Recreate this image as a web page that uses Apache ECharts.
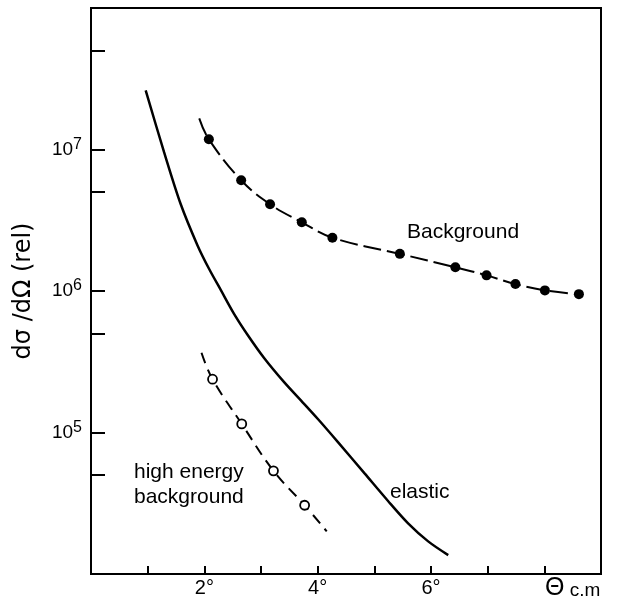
<!DOCTYPE html>
<html><head><meta charset="utf-8">
<script src="https://cdn.jsdelivr.net/npm/echarts@6/dist/echarts.min.js"></script>
<style>html,body{margin:0;padding:0;background:#fff}#c{width:634px;height:601px}</style>
</head><body><div id="c"></div>
<script>
// Elastic cross-section (solid curve)
const elasticX = [0.965, 1.288, 1.584, 1.88, 2.085, 2.292, 2.527, 2.765, 3.058, 3.412, 3.708, 4.004, 4.358, 4.828, 5.242, 5.596, 5.95, 6.304];
const elasticY = [2.62e7, 9.62e6, 4.10e6, 2.10e6, 1.43e6, 1.014e6, 6.87e5, 4.89e5, 3.35e5, 2.26e5, 1.68e5, 1.245e5, 8.55e4, 5.14e4, 3.28e4, 2.28e4, 1.70e4, 1.36e4];
// Background (filled dots) and its dashed curve
const bgX = [2.08, 2.65, 3.16, 3.72, 4.26, 5.45, 6.43, 6.98, 7.49, 8.01, 8.61];
const bgY = [1.18e7, 6.06e6, 4.1e6, 3.06e6, 2.38e6, 1.83e6, 1.47e6, 1.29e6, 1.12e6, 1.01e6, 9.5e5];
const bgCurveStartX = 1.91, bgCurveStartY = 1.66e7;
// High energy background (open circles) and its dashed curve
const heX = [2.145, 2.66, 3.22, 3.77];
const heY = [2.38e5, 1.15e5, 5.36e4, 3.06e4];
const heCurveStartX = 1.95, heCurveStartY = 3.66e5;
const heCurveEndX = 4.16, heCurveEndY = 2.0e4;
// Axis ticks
const xLabelled = [2, 4, 6];
const yMajorTicks = [1e5, 1e6, 1e7];
const yMinorTicks = [5e4, 5e5, 5e6, 5e7];

const zip = (xs, ys) => xs.map((x, i) => [x, ys[i]]);
const FONT = 'Liberation Sans';
const FONT2 = 'DejaVu Sans';

const chart = echarts.init(document.getElementById('c'));
chart.setOption({
  animation: false,
  backgroundColor: '#fff',
  textStyle: { fontFamily: FONT, color: '#000' },
  grid: { left: 91, top: 8, right: 33, bottom: 26, show: true, borderColor: '#000', borderWidth: 2, containLabel: false },
  xAxis: {
    type: 'value', min: 0, max: 9, interval: 1,
    axisLine: { lineStyle: { color: '#000', width: 2 } },
    axisTick: { inside: true, length: 8, lineStyle: { color: '#000', width: 2 } },
    splitLine: { show: false },
    axisLabel: {
      margin: 4, fontSize: 20, color: '#000', fontFamily: FONT,
      formatter: v => xLabelled.includes(v) ? v + '°' : ''
    },
    name: '{t|Θ}{c| c.m}', nameLocation: 'end', nameGap: -56,
    nameTextStyle: {
      verticalAlign: 'top', align: 'left', padding: [2, 0, 0, 0],
      rich: { t: { fontSize: 25, fontFamily: FONT, color: '#000' }, c: { fontSize: 19, fontFamily: FONT, color: '#000', padding: [4, 0, 0, 0] } }
    }
  },
  yAxis: [{
    type: 'log', logBase: 10, min: 1e4, max: 1e8, position: 'left',
    axisLine: { lineStyle: { color: '#000', width: 2 } },
    axisTick: { show: false },
    splitLine: { show: false },
    axisLabel: {
      margin: 9, color: '#000', fontFamily: FONT,
      formatter: v => {
        const e = Math.round(Math.log10(v));
        return yMajorTicks.includes(Math.pow(10, e)) ? '{b|10}{s|' + e + '}' : '';
      },
      rich: { b: { fontSize: 19, fontFamily: FONT, color: '#000' }, s: { fontSize: 16, fontFamily: FONT, color: '#000', verticalAlign: 'bottom', padding: [0, 0, 10, 0] } }
    },
    name: 'dσ /dΩ (rel)', nameLocation: 'middle', nameGap: 55,
    nameTextStyle: { fontSize: 24, fontFamily: FONT2, color: '#000' }
  }, {
    type: 'value', min: 4, max: 8, position: 'left',
    axisLine: { show: false },
    splitLine: { show: false },
    axisLabel: { show: false },
    axisTick: {
      show: true, inside: true, length: 14, lineStyle: { color: '#000', width: 2 },
      customValues: yMajorTicks.concat(yMinorTicks).map(v => Math.log10(v))
    }
  }],
  graphic: [
    { type: 'text', left: 407, top: 222, style: { text: 'Background', fontSize: 21, fontFamily: FONT, fill: '#000' } },
    { type: 'text', left: 390, top: 482, style: { text: 'elastic', fontSize: 21, fontFamily: FONT, fill: '#000' } },
    { type: 'text', left: 134, top: 460, style: { text: 'high energy\nbackground', fontSize: 21, lineHeight: 25, fontFamily: FONT, fill: '#000' } }
  ],
  series: [
    {
      type: 'line', name: 'elastic', data: zip(elasticX, elasticY), smooth: 0.3, showSymbol: false, symbol: 'none',
      lineStyle: { color: '#000', width: 2.5 }, z: 3
    },
    {
      type: 'line', name: 'bg-curve', data: [[bgCurveStartX, bgCurveStartY]].concat(zip(bgX, bgY)), smooth: 0.4, symbol: 'none',
      lineStyle: { color: '#000', width: 2, type: [18, 6] }, z: 3
    },
    {
      type: 'scatter', name: 'Background', data: zip(bgX, bgY), symbol: 'circle', symbolSize: 10,
      itemStyle: { color: '#000', opacity: 1 }, z: 5
    },
    {
      type: 'line', name: 'he-curve', data: [[heCurveStartX, heCurveStartY]].concat(zip(heX, heY), [[heCurveEndX, heCurveEndY]]), smooth: 0.4, symbol: 'none',
      lineStyle: { color: '#000', width: 2, type: [11, 7] }, z: 3
    },
    {
      type: 'scatter', name: 'high energy background', data: zip(heX, heY), symbol: 'circle', symbolSize: 9,
      itemStyle: { color: '#fff', borderColor: '#000', borderWidth: 1.8, opacity: 1 }, z: 5
    }
  ]
});
</script>
</body></html>
